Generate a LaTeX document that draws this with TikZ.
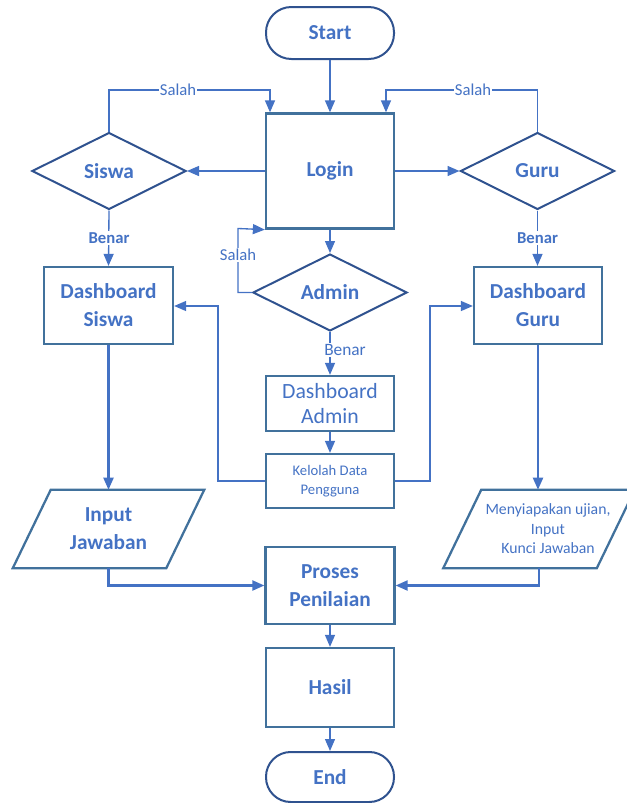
\documentclass[tikz,border=0pt]{standalone}
\usepackage{fontspec}
\setmainfont{Carlito}
\usetikzlibrary{shapes.geometric,arrows.meta,calc}
\definecolor{txt}{HTML}{4472C4}
\definecolor{boxc}{HTML}{41719C}
\definecolor{diac}{HTML}{2F528F}
\begin{document}
\begin{tikzpicture}[x=0.75pt,y=-0.75pt,
  bigb/.style={font=\fontsize{16}{21}\selectfont\bfseries},
  box/.style={draw=boxc, line width=1.7pt, rectangle, inner sep=0pt, align=center, text=txt, bigb},
  dia/.style={draw=diac, line width=1.5pt, diamond, aspect=2, inner sep=0pt, text=txt, bigb, minimum width=115.5pt, minimum height=57.75pt},
  term/.style={draw=diac, line width=1.5pt, rectangle, inner sep=0pt, text=txt, bigb, minimum width=96pt},
  io/.style={rectangle, inner sep=0pt, align=center, text=txt, minimum width=114.75pt, minimum height=58.5pt},
  ioline/.style={draw=boxc, line width=1.7pt, line join=miter},
  conn/.style={draw=txt, line width=1pt, -{Triangle[length=9pt,width=7.5pt]}},
  tconn/.style={draw=txt, line width=1.6pt, -{Triangle[length=9pt,width=7.5pt]}},
  lbl/.style={fill=white, text=txt, inner sep=1pt, font=\fontsize{12.5}{14}\selectfont},
  blbl/.style={fill=white, text=txt, inner sep=1pt, font=\fontsize{12.5}{14}\selectfont\bfseries}
]
\useasboundingbox (0,0) rectangle (626,803);

% nodes
\node[term, minimum height=39pt, rounded corners=19pt] (start) at (330,33) {Start};
\node[box, minimum width=96pt, minimum height=86.25pt] (login) at (330,171) {\raisebox{3pt}{Login}};
\node[dia] (siswa) at (109,171) {Siswa};
\node[dia] (guru) at (537.5,171) {Guru};
\node[dia] (admin) at (330,292.5) {Admin};
\node[box, minimum width=96.75pt, minimum height=57.75pt] (dsiswa) at (108.5,305.5) {Dashboard\\Siswa};
\node[box, minimum width=96pt, minimum height=57.75pt] (dguru) at (538,305.5) {Dashboard\\Guru};
\node[box, minimum width=96pt, minimum height=41.25pt, font=\fontsize{16.3}{19}\selectfont] (dadmin) at (330,403.5) {Dashboard\\Admin};
\node[box, minimum width=96pt, minimum height=40.5pt, font=\fontsize{11}{14}\selectfont] (kel) at (330,481) {Kelolah Data\\Pengguna};
\node[io, bigb] (inp) at (108.5,529) {Input\\Jawaban};
\draw[ioline] ($(inp.north west)+(19,0)$) -- ($(inp.north east)+(19,0)$) -- ($(inp.south east)+(-19,0)$) -- ($(inp.south west)+(-19,0)$) -- cycle;
\node[io] (men) at (539,529) {};
\draw[ioline] ($(men.north west)+(19,0)$) -- ($(men.north east)+(19,0)$) -- ($(men.south east)+(-19,0)$) -- ($(men.south west)+(-19,0)$) -- cycle;
\node[text=txt, align=center, inner sep=0pt, font=\fontsize{11.8}{14.6}\selectfont, xshift=6.75pt] (mentxt) at (men) {Menyiapakan ujian,\\Input\\Kunci Jawaban};
\node[box, minimum width=96.75pt, minimum height=57.75pt] (proses) at (330,585.5) {Proses\\Penilaian};
\node[box, minimum width=96pt, minimum height=59.25pt] (hasil) at (330,687.5) {Hasil};
\node[term, minimum height=37.5pt, rounded corners=18.5pt] (end) at (330,777) {End};

% connectors
\draw[conn] (start) -- (login);
\coordinate (sl) at (270,90);
\draw[conn] (siswa.north) |- (sl) -- (sl |- login.north);
\coordinate (gl) at (386,90);
\draw[conn] (guru.north) |- (gl) -- (gl |- login.north);
\draw[conn] (login.west |- siswa.east) -- (siswa.east);
\draw[conn] (login.east |- guru.west) -- (guru.west);
\draw[conn] (siswa.south) -- (dsiswa.north);
\draw[conn] (guru.south) -- (guru.south |- dguru.north);
\draw[conn] (login.south) -- (admin.north);
\coordinate (al) at (238,228.5);
\draw[conn] (admin.west) -| (al) -- (login.south west);
\draw[conn] (admin.south) -- (dadmin.north);
\draw[conn] (dadmin.south) -- (kel.north);
\coordinate (kl) at (218,306);
\draw[conn] (kel.west) -| (kl) -- (kl -| dsiswa.east);
\coordinate (kr) at (430,306);
\draw[conn] (kel.east) -| (kr) -- (kr -| dguru.west);
\draw[tconn] (dsiswa.south) -- (inp.north);
\draw[tconn] (dguru.south) -- (dguru.south |- men.north);
\draw[tconn] (inp.south) |- (proses.west);
\draw[tconn] (men.south) |- (proses.east);
\draw[conn] (proses.south) -- (hasil.north);
\draw[conn] (hasil.south) -- (end.north);

% labels
\node[lbl] (s1) at (178,90) {Salah};
\node[lbl] (s2) at (473,90) {Salah};
\node[lbl] (s3) at (238,255) {Salah};
\node[blbl] (b1) at (109,238) {Benar};
\node[blbl] (b2) at (537.5,238) {Benar};
\node[lbl, font=\fontsize{13}{15}\selectfont] (b3) at (345,350) {Benar};
\end{tikzpicture}
\end{document}
